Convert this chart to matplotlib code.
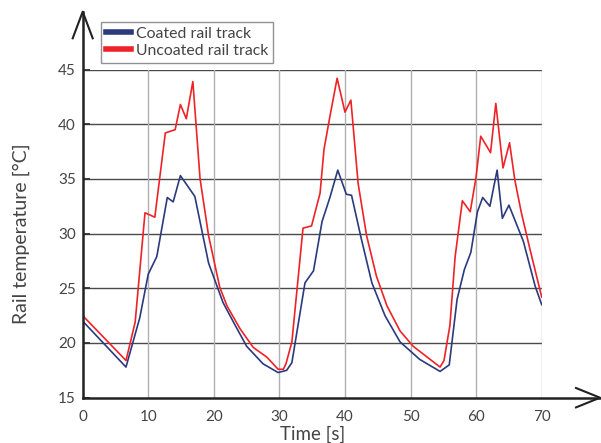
import matplotlib
matplotlib.use("Agg")
import matplotlib.pyplot as plt
from matplotlib.lines import Line2D

plt.rcParams['font.family'] = ['Lato', 'DejaVu Sans']

# ---- data ----
t_coated = [0, 6.6, 8.7, 10.0, 11.3, 12.9, 13.8, 14.9, 17.1, 18.1, 19.2, 21.4, 23.0, 25.0,
            27.5, 29.8, 31.1, 31.9, 33.9, 35.2, 36.5, 37.7, 38.9, 40.2, 41.0, 42.5, 44.1,
            46.1, 48.4, 51.4, 54.5, 55.9, 57.1, 58.2, 59.2, 60.2, 61.0, 62.1, 63.2, 64.0,
            65.0, 67.2, 69.0, 70.0]
v_coated = [22.0, 17.8, 22.3, 26.3, 27.9, 33.3, 32.9, 35.3, 33.4, 30.5, 27.3, 23.7, 21.9, 19.7,
            18.1, 17.3, 17.5, 18.2, 25.5, 26.6, 31.1, 33.3, 35.8, 33.6, 33.5, 29.5, 25.5,
            22.5, 20.1, 18.5, 17.4, 18.0, 24.0, 26.7, 28.3, 32.0, 33.3, 32.5, 35.8, 31.4,
            32.6, 29.3, 25.2, 23.5]

t_uncoated = [0, 6.6, 8.0, 9.5, 11.0, 12.6, 14.1, 14.9, 15.8, 16.8, 17.9, 19.2, 20.9, 22.0,
              24.0, 26.0, 28.1, 29.8, 30.6, 31.0, 31.9, 33.6, 34.9, 36.2, 36.8, 37.7, 38.8,
              40.0, 40.9, 42.0, 43.3, 44.8, 46.4, 48.4, 50.4, 54.5, 55.1, 56.0, 56.8, 57.9,
              59.1, 60.0, 60.7, 62.2, 63.0, 64.1, 65.1, 65.9, 66.9, 68.2, 69.1, 70.0]
v_uncoated = [22.5, 18.4, 21.9, 31.9, 31.5, 39.2, 39.5, 41.8, 40.5, 43.9, 35.0, 29.8, 25.1, 23.4,
              21.3, 19.6, 18.7, 17.6, 17.6, 18.1, 20.1, 30.5, 30.7, 33.7, 37.7, 40.7, 44.2,
              41.1, 42.2, 34.6, 29.8, 26.1, 23.4, 21.1, 19.7, 17.8, 18.4, 21.6, 27.9, 33.0,
              32.0, 35.2, 38.9, 37.4, 41.9, 36.0, 38.3, 34.9, 31.9, 28.6, 26.4, 24.2]

x_ticks = [0, 10, 20, 30, 40, 50, 60, 70]
y_ticks = [15, 20, 25, 30, 35, 40, 45]
series_labels = ["Coated rail track", "Uncoated rail track"]

# ---- figure ----
W, H = 601, 443
fig = plt.figure(figsize=(W / 100, H / 100), dpi=100)
left, right, top, bottom = 82.7, 541.7, 69.5, 397.7
ax = fig.add_axes([left / W, 1 - bottom / H, (right - left) / W, (bottom - top) / H])

text_color = "#444444"
blue = "#2a3a7c"
red = "#ee2227"

ax.set_xlim(0, 70)
ax.set_ylim(15, 45)
ax.set_xticks(x_ticks)
ax.set_yticks(y_ticks)

# grid
for yv in y_ticks[1:]:
    ax.axhline(yv, color="#4a4a4a", lw=1.0, zorder=1)
for xv in x_ticks[1:]:
    ax.axvline(xv, color="#b0b0b0", lw=1.0, zorder=1)

l1, = ax.plot(t_coated, v_coated, color=blue, lw=1.2, zorder=3)
l2, = ax.plot(t_uncoated, v_uncoated, color=red, lw=1.2, zorder=3)

for s in ["top", "right", "left", "bottom"]:
    ax.spines[s].set_visible(False)

ax.tick_params(axis="x", length=0, pad=9, labelsize=11, labelcolor=text_color)
ax.tick_params(axis="y", direction="in", length=5, width=1.3, color="#333333",
               pad=5, labelsize=11, labelcolor=text_color)

ax.set_xlabel("Time [s]", fontsize=13.5, color=text_color, labelpad=1)
ax.set_ylabel("Rail temperature [°C]", fontsize=14, color=text_color, labelpad=20)

# axes with arrows
ax_w = right - left
ax_h = bottom - top
axis_col = "#222222"
ax.add_line(Line2D([0, 0], [0, (bottom - 11.7) / ax_h], transform=ax.transAxes,
                   color=axis_col, lw=1.8, clip_on=False, zorder=4))
ax.add_line(Line2D([-10 / ax_w, 0, 10 / ax_w],
                   [(bottom - 38.3) / ax_h, (bottom - 11.7) / ax_h, (bottom - 38.3) / ax_h],
                   transform=ax.transAxes, color=axis_col, lw=1.5, clip_on=False, zorder=4))
ax.add_line(Line2D([0, (600 - left) / ax_w], [0, 0], transform=ax.transAxes,
                   color=axis_col, lw=1.8, clip_on=False, zorder=4))
ax.add_line(Line2D([(576 - left) / ax_w, (600 - left) / ax_w, (576 - left) / ax_w],
                   [9.7 / ax_h, 0, -9.7 / ax_h],
                   transform=ax.transAxes, color=axis_col, lw=1.5, clip_on=False, zorder=4))

# legend
leg = fig.legend([l1, l2], series_labels, loc="upper left",
                 bbox_to_anchor=(101 / W, 1 - 21.7 / H), fontsize=11.4,
                 frameon=True, fancybox=False, handlelength=1.6, handletextpad=0.3,
                 borderpad=0.3, labelspacing=0.2, borderaxespad=0)
leg.get_frame().set_edgecolor("#777777")
leg.get_frame().set_linewidth(1.0)
for h in leg.legend_handles:
    h.set_linewidth(4)
for txt in leg.get_texts():
    txt.set_color(text_color)

fig.savefig("out.png", dpi=100)
